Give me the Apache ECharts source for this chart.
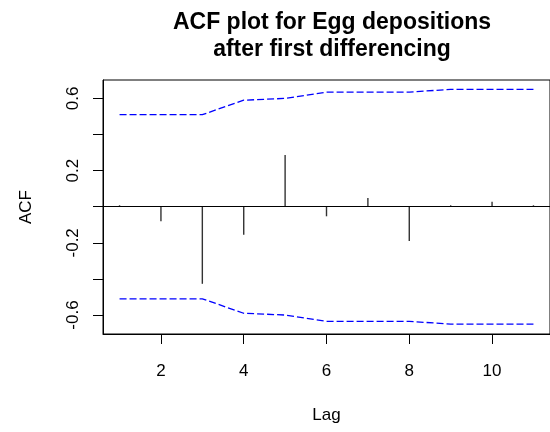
<!DOCTYPE html>
<html>
<head>
<meta charset="utf-8">
<script src="https://cdn.jsdelivr.net/npm/echarts@6/dist/echarts.min.js"></script>
<style>
html,body{margin:0;padding:0;background:#fff;}
#chart{width:550px;height:432px;}
</style>
</head>
<body>
<div id="chart"></div>
<script>
const lags = [1, 2, 3, 4, 5, 6, 7, 8, 9, 10, 11];
const acfValues = [0.008, -0.08, -0.427, -0.155, 0.286, -0.053, 0.049, -0.19, 0.008, 0.027, 0.008];
const upperBand = [0.51, 0.51, 0.51, 0.59, 0.60, 0.635, 0.635, 0.635, 0.65, 0.65, 0.65];
const lowerBand = [-0.51, -0.51, -0.51, -0.59, -0.60, -0.635, -0.635, -0.635, -0.65, -0.65, -0.65];
const xTicks = [2, 4, 6, 8, 10];
const yTicks = [-0.6, -0.4, -0.2, 0, 0.2, 0.4, 0.6];
const yLabels = [-0.6, -0.2, 0.2, 0.6];

const FONT = "'Liberation Sans', Arial, sans-serif";
const chart = echarts.init(document.getElementById('chart'), null, {renderer: 'canvas'});

const option = {
  animation: false,
  backgroundColor: '#ffffff',
  title: {
    text: 'ACF plot for Egg depositions\nafter first differencing',
    left: 327,
    top: 4,
    textAlign: 'center',
    textStyle: {
      fontFamily: FONT,
      fontWeight: 'bold',
      fontSize: 23,
      lineHeight: 27,
      color: '#000'
    }
  },
  grid: {
    left: 103,
    top: 80,
    width: 448.6,
    height: 254,
    show: true,
    borderColor: '#000',
    borderWidth: 1,
    backgroundColor: 'transparent',
    containLabel: false
  },
  xAxis: {
    type: 'value',
    min: 0.6,
    max: 11.4,
    name: 'Lag',
    nameLocation: 'middle',
    nameGap: 73,
    nameTextStyle: {fontFamily: FONT, fontSize: 17, color: '#000'},
    axisLine: {show: true, onZero: false, lineStyle: {color: '#000', width: 1}},
    axisTick: {show: true, length: 10, lineStyle: {color: '#000', width: 1}, customValues: xTicks},
    axisLabel: {fontFamily: FONT, fontSize: 17, color: '#000', margin: 29, customValues: xTicks},
    splitLine: {show: false}
  },
  yAxis: {
    type: 'value',
    min: -0.705,
    max: 0.702,
    name: 'ACF',
    nameLocation: 'middle',
    nameRotate: 90,
    nameGap: 68,
    nameTextStyle: {fontFamily: FONT, fontSize: 17, color: '#000'},
    axisLine: {show: true, onZero: false, lineStyle: {color: '#000', width: 1}},
    axisTick: {show: true, length: 10, lineStyle: {color: '#000', width: 1}, customValues: yTicks},
    axisLabel: {fontFamily: FONT, fontSize: 17, color: '#000', margin: 21, rotate: 90, customValues: yLabels,
      formatter: v => String(v)},
    splitLine: {show: false}
  },
  series: [
    {
      type: 'custom',
      name: 'ACF',
      data: lags.map((l, i) => [l, acfValues[i]]),
      renderItem: function (params, api) {
        const x = api.value(0), y = api.value(1);
        const p0 = api.coord([x, 0]);
        const p1 = api.coord([x, y]);
        return {
          type: 'line',
          shape: {x1: p0[0], y1: p0[1], x2: p1[0], y2: p1[1]},
          style: {stroke: '#333', lineWidth: 1.4}
        };
      },
      z: 3
    },
    {
      type: 'line',
      name: 'upper',
      data: lags.map((l, i) => [l, upperBand[i]]),
      showSymbol: false,
      symbol: 'none',
      lineStyle: {color: '#0000ff', width: 1.3, type: [7, 3]},
      markLine: {
        silent: true,
        symbol: 'none',
        label: {show: false},
        lineStyle: {color: '#000', width: 1, type: 'solid'},
        data: [{yAxis: 0}]
      },
      z: 2
    },
    {
      type: 'line',
      name: 'lower',
      data: lags.map((l, i) => [l, lowerBand[i]]),
      showSymbol: false,
      symbol: 'none',
      lineStyle: {color: '#0000ff', width: 1.3, type: [7, 3]},
      z: 2
    }
  ]
};
chart.setOption(option);
</script>
</body>
</html>
